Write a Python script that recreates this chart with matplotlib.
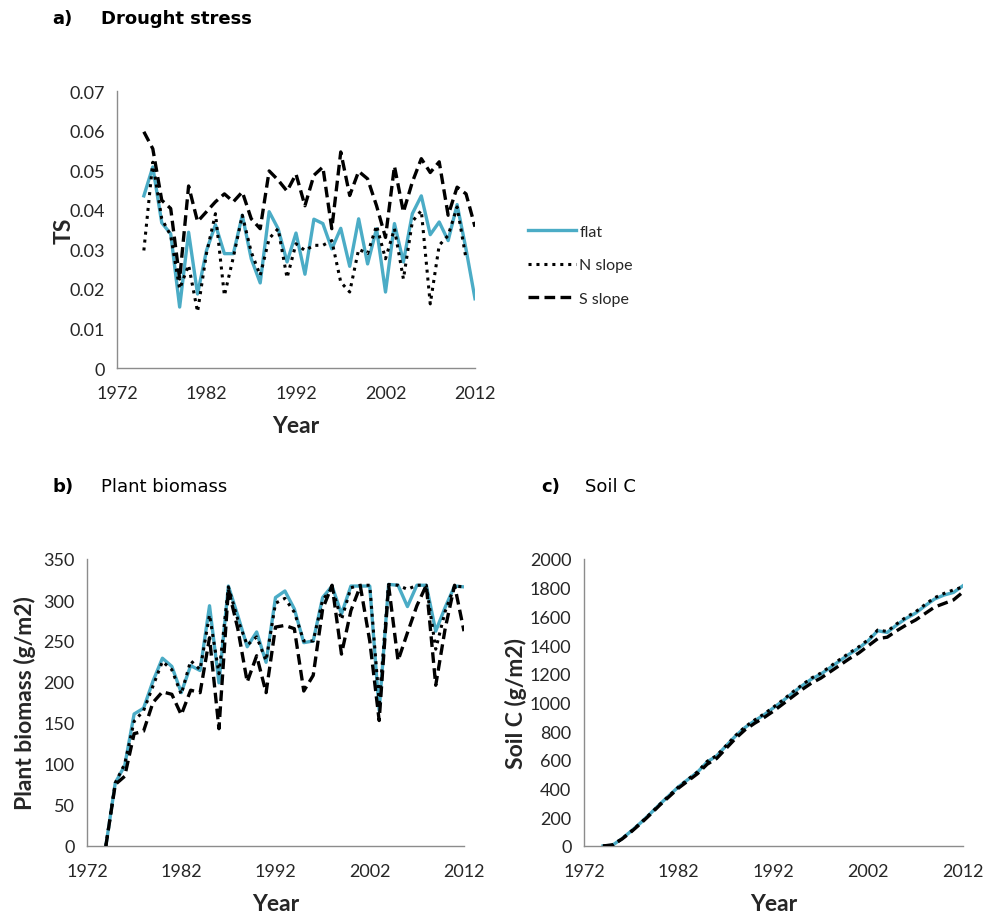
import numpy as np
import matplotlib
matplotlib.use("Agg")
import matplotlib.pyplot as plt

# ---------------- data ----------------
years_ts = list(range(1975, 2013))
ts_flat = [0.0435, 0.0508, 0.0367, 0.0339, 0.0154, 0.0343, 0.0187, 0.0297, 0.0362, 0.0289,
           0.0289, 0.0386, 0.0276, 0.0215, 0.0395, 0.0352, 0.0268, 0.0341, 0.0237, 0.0376,
           0.0365, 0.0301, 0.0353, 0.0257, 0.0377, 0.0263, 0.0352, 0.0192, 0.0365, 0.0268,
           0.0390, 0.0435, 0.0337, 0.0369, 0.0322, 0.0413, 0.0300, 0.0175]
ts_n = [0.0297, 0.0520, 0.0377, 0.0335, 0.0200, 0.0260, 0.0142, 0.0290, 0.0390, 0.0183,
        0.0280, 0.0386, 0.0293, 0.0234, 0.0327, 0.0352, 0.0228, 0.0314, 0.0297, 0.0310,
        0.0310, 0.0322, 0.0217, 0.0192, 0.0300, 0.0289, 0.0360, 0.0276, 0.0352, 0.0225,
        0.0370, 0.0398, 0.0162, 0.0310, 0.0335, 0.0407, 0.0276, np.nan]
ts_s = [0.0597, 0.0554, 0.0424, 0.0403, 0.0225, 0.0460, 0.0370, 0.0395, 0.0420, 0.0440,
        0.0420, 0.0445, 0.0377, 0.0352, 0.0498, 0.0475, 0.0447, 0.0490, 0.0410, 0.0487,
        0.0508, 0.0352, 0.0546, 0.0436, 0.0497, 0.0478, 0.0410, 0.0330, 0.0510, 0.0394,
        0.0470, 0.0529, 0.0494, 0.0521, 0.0386, 0.0457, 0.0440, 0.0357]

years_b = list(range(1974, 2013))
bio_flat = [0, 77, 98, 161, 168, 201, 229, 219, 187, 220, 214, 293, 199, 317, 281, 243, 261, 224,
            303, 311, 289, 248, 250, 303, 317, 283, 317, 317, 317, 165, 319, 318, 292, 318, 318,
            262, 291, 317, 316]
bio_n = [0, 77, 100, 152, 165, 195, 225, 215, 185, 226, 215, 282, 210, 316, 276, 245, 255, 226,
         296, 302, 285, 250, 250, 300, 315, 276, 315, 318, 318, 175, 319, 318, 313, 318, 318,
         240, 286, 317, 316]
bio_s = [0, 75, 85, 137, 140, 175, 188, 185, 160, 190, 187, 254, 143, 313, 265, 200, 232, 187,
         267, 269, 265, 189, 208, 289, 318, 234, 287, 317, 250, 153, 318, 226, 260, 293, 318,
         196, 265, 318, 262]

soil_flat = [0, 5, 51, 105, 163, 226, 291, 353, 414, 465, 516, 586, 628, 698, 767, 826, 872, 914,
             963, 1012, 1065, 1116, 1163, 1198, 1244, 1291, 1337, 1379, 1430, 1500, 1488, 1540,
             1586, 1623, 1674, 1721, 1749, 1767, 1814]
soil_n = [0, 5, 50, 104, 162, 225, 290, 352, 413, 466, 518, 590, 630, 700, 770, 830, 878, 920,
          968, 1018, 1072, 1122, 1170, 1205, 1252, 1300, 1345, 1388, 1438, 1505, 1495, 1548,
          1595, 1632, 1683, 1730, 1760, 1785, 1805]
soil_s = [0, 8, 48, 100, 158, 220, 285, 345, 405, 455, 505, 570, 610, 680, 750, 810, 855, 895,
          940, 990, 1040, 1090, 1135, 1170, 1215, 1260, 1305, 1345, 1395, 1445, 1455, 1500,
          1540, 1575, 1620, 1665, 1690, 1715, 1770]

series_names = ["flat", "N slope", "S slope"]
x_ticks = [1972, 1982, 1992, 2002, 2012]

# ---------------- style ----------------
BLUE = "#4BACC6"
AXC = "#8C8C8C"
TXT = "#262626"
FONT = ["Lato", "DejaVu Sans"]
plt.rcParams["font.family"] = FONT

fig = plt.figure(figsize=(9.85, 9.2), dpi=100)
W, H = 985, 920
LABEL_FS = 16.5


def add_ax(l, r, t, b):
    return fig.add_axes([l / W, 1 - b / H, (r - l) / W, (b - t) / H])


def style(ax, ylim, yticks, fmt):
    ax.set_xlim(1972, 2012)
    ax.set_ylim(*ylim)
    ax.set_xticks(x_ticks)
    ax.set_yticks(yticks)
    ax.set_yticklabels([fmt(v) for v in yticks])
    for s in ["top", "right"]:
        ax.spines[s].set_visible(False)
    for s in ["left", "bottom"]:
        ax.spines[s].set_color(AXC)
        ax.spines[s].set_linewidth(1.0)
    ax.tick_params(axis="both", length=0, labelsize=13, colors=TXT)
    ax.tick_params(axis="x", pad=12)
    ax.tick_params(axis="y", pad=9)


def draw(ax, x, a, b, c):
    ax.plot(x, a, color=BLUE, lw=2.4, label=series_names[0], zorder=2)
    ax.plot(x, b, color="black", lw=2.2, linestyle=(0, (1, 1.6)), label=series_names[1], zorder=3)
    ax.plot(x, c, color="black", lw=2.4, linestyle=(0, (3.2, 1.6)), label=series_names[2], zorder=4)


# Panel a
ax1 = add_ax(117, 475, 92, 369)
draw(ax1, years_ts, ts_flat, ts_n, ts_s)
style(ax1, (0, 0.07), [0, 0.01, 0.02, 0.03, 0.04, 0.05, 0.06, 0.07],
      lambda v: "0" if v == 0 else f"{v:.2f}")
ax1.set_xlabel("Year", fontsize=LABEL_FS, fontweight="bold", color=TXT, labelpad=10)
ax1.set_ylabel("TS", fontsize=LABEL_FS, fontweight="bold", color=TXT)
ax1.yaxis.set_label_coords(-0.118, 0.5)

# Panel b
ax2 = add_ax(87, 464, 560, 847)
draw(ax2, years_b, bio_flat, bio_n, bio_s)
style(ax2, (0, 350), list(range(0, 351, 50)), lambda v: f"{v:d}")
ax2.set_xlabel("Year", fontsize=LABEL_FS, fontweight="bold", color=TXT, labelpad=10)
ax2.set_ylabel("Plant biomass (g/m2)", fontsize=LABEL_FS, fontweight="bold", color=TXT)
ax2.yaxis.set_label_coords(-0.135, 0.5)

# Panel c
ax3 = add_ax(584, 963, 560, 847)
draw(ax3, years_b, soil_flat, soil_n, soil_s)
style(ax3, (0, 2000), list(range(0, 2001, 200)), lambda v: f"{v:d}")
ax3.set_xlabel("Year", fontsize=LABEL_FS, fontweight="bold", color=TXT, labelpad=10)
ax3.set_ylabel("Soil C (g/m2)", fontsize=LABEL_FS, fontweight="bold", color=TXT)
ax3.yaxis.set_label_coords(-0.150, 0.5)

# Legend
handles, labels = ax1.get_legend_handles_labels()
fig.legend(handles, labels, loc="upper left", bbox_to_anchor=(514 / W, 1 - 211 / H),
           frameon=False, fontsize=11.5, handlelength=3.0, handletextpad=0.2,
           labelspacing=1.22, labelcolor=TXT)

# Titles
tfam = ["DejaVu Sans"]
TFS = 13
fig.text(52 / W, 1 - 19 / H, "a)", fontsize=TFS, fontweight="bold", family=tfam, va="center")
fig.text(101 / W, 1 - 19 / H, "Drought stress", fontsize=TFS, fontweight="bold", family=tfam, va="center")
fig.text(52 / W, 1 - 487 / H, "b)", fontsize=TFS, fontweight="bold", family=tfam, va="center")
fig.text(101 / W, 1 - 487 / H, "Plant biomass", fontsize=TFS, family=tfam, va="center")
fig.text(541 / W, 1 - 487 / H, "c)", fontsize=TFS, fontweight="bold", family=tfam, va="center")
fig.text(585 / W, 1 - 487 / H, "Soil C", fontsize=TFS, family=tfam, va="center")

fig.savefig("out.png", dpi=100)
